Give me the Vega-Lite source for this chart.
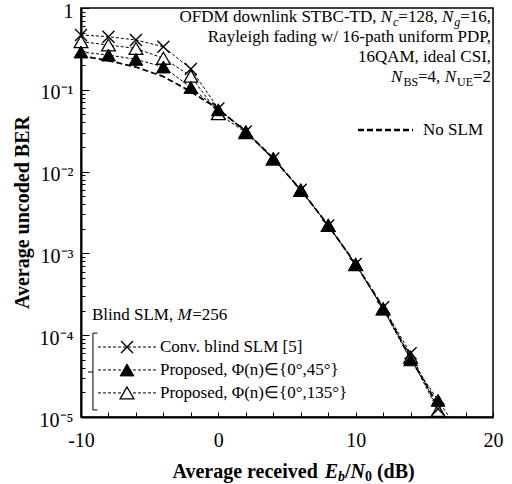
{
  "$schema": "https://vega.github.io/schema/vega-lite/v6.json",
  "width": 412,
  "height": 409,
  "autosize": "none",
  "padding": {"left": 81, "top": 8, "right": 19, "bottom": 67},
  "background": "white",
  "config": {
    "view": {"stroke": "black", "strokeWidth": 1.5},
    "font": "Liberation Serif",
    "text": {"font": "Liberation Serif", "color": "black"}
  },
  "resolve": {"axis": {"y": "independent", "x": "independent"}, "scale": {"y": "shared", "x": "shared"}},
  "data": {
    "values": [
      {"s": "conv", "x": -10, "ber": 0.468}, {"s": "conv", "x": -8, "ber": 0.446}, {"s": "conv", "x": -6, "ber": 0.406}, {"s": "conv", "x": -4, "ber": 0.336}, {"s": "conv", "x": -2, "ber": 0.18}, {"s": "conv", "x": 0, "ber": 0.059}, {"s": "conv", "x": 2, "ber": 0.031}, {"s": "conv", "x": 4, "ber": 0.0145}, {"s": "conv", "x": 6, "ber": 0.006}, {"s": "conv", "x": 8, "ber": 0.0022}, {"s": "conv", "x": 10, "ber": 0.00074}, {"s": "conv", "x": 12, "ber": 0.00022}, {"s": "conv", "x": 14, "ber": 0.00006}, {"s": "conv", "x": 16, "ber": 0.0000125}, {"s": "conv", "x": 17, "ber": 0.000006},
      {"s": "p45", "x": -10, "ber": 0.29}, {"s": "p45", "x": -8, "ber": 0.266}, {"s": "p45", "x": -6, "ber": 0.236}, {"s": "p45", "x": -4, "ber": 0.19}, {"s": "p45", "x": -2, "ber": 0.107}, {"s": "p45", "x": 0, "ber": 0.057}, {"s": "p45", "x": 2, "ber": 0.031}, {"s": "p45", "x": 4, "ber": 0.0145}, {"s": "p45", "x": 6, "ber": 0.006}, {"s": "p45", "x": 8, "ber": 0.0022}, {"s": "p45", "x": 10, "ber": 0.00074}, {"s": "p45", "x": 12, "ber": 0.00021}, {"s": "p45", "x": 14, "ber": 0.00005}, {"s": "p45", "x": 16, "ber": 0.000016}, {"s": "p45", "x": 17, "ber": 0.000009},
      {"s": "p135", "x": -10, "ber": 0.387}, {"s": "p135", "x": -8, "ber": 0.353}, {"s": "p135", "x": -6, "ber": 0.32}, {"s": "p135", "x": -4, "ber": 0.243}, {"s": "p135", "x": -2, "ber": 0.147}, {"s": "p135", "x": 0, "ber": 0.051}, {"s": "p135", "x": 2, "ber": 0.03}, {"s": "p135", "x": 4, "ber": 0.0142}, {"s": "p135", "x": 6, "ber": 0.0059}, {"s": "p135", "x": 8, "ber": 0.0022}, {"s": "p135", "x": 10, "ber": 0.00073}, {"s": "p135", "x": 12, "ber": 0.00021}, {"s": "p135", "x": 14, "ber": 0.000054}, {"s": "p135", "x": 16, "ber": 0.000012}, {"s": "p135", "x": 17, "ber": 0.0000055},
      {"s": "noslm", "x": -10, "ber": 0.26}, {"s": "noslm", "x": -8, "ber": 0.227}, {"s": "noslm", "x": -6, "ber": 0.19}, {"s": "noslm", "x": -4, "ber": 0.145}, {"s": "noslm", "x": -2, "ber": 0.095}, {"s": "noslm", "x": 0, "ber": 0.058}, {"s": "noslm", "x": 2, "ber": 0.031}, {"s": "noslm", "x": 4, "ber": 0.0145}, {"s": "noslm", "x": 6, "ber": 0.006}, {"s": "noslm", "x": 8, "ber": 0.0022}, {"s": "noslm", "x": 10, "ber": 0.00074}, {"s": "noslm", "x": 12, "ber": 0.00022}, {"s": "noslm", "x": 14, "ber": 0.000052}, {"s": "noslm", "x": 16, "ber": 0.000014}, {"s": "noslm", "x": 17, "ber": 0.000007}
    ]
  },
  "layer": [
    {
      "transform": [{"filter": "datum.s != 'noslm'"}],
      "mark": {"type": "line", "strokeDash": [3, 2], "strokeWidth": 1, "color": "black", "clip": true},
      "encoding": {
        "x": {
          "field": "x", "type": "quantitative",
          "scale": {"domain": [-10, 20], "nice": false, "zero": false},
          "axis": {
            "orient": "bottom",
            "values": [-10, -8, -6, -4, -2, 0, 2, 4, 6, 8, 10, 12, 14, 16, 18, 20],
            "labelExpr": "datum.value % 10 == 0 ? '' + datum.value : ''",
            "grid": false, "tickSize": -5, "tickColor": "black", "tickWidth": 1,
            "domainColor": "black", "domainWidth": 2,
            "labelFontSize": 20, "labelColor": "black", "labelFont": "Liberation Serif", "labelPadding": 18, "labelFlush": false,
            "title": null
          }
        },
        "y": {
          "field": "ber", "type": "quantitative",
          "scale": {"type": "log", "domain": [0.00001, 1], "nice": false},
          "axis": {
            "orient": "left",
            "values": [1, 0.1, 0.01, 0.001, 0.0001, 0.00001],
            "labelExpr": "datum.value == 1 ? '1' : datum.value == 0.1 ? '10⁻¹' : datum.value == 0.01 ? '10⁻²' : datum.value == 0.001 ? '10⁻³' : datum.value == 0.0001 ? '10⁻⁴' : '10⁻⁵'",
            "grid": false, "tickSize": -8, "tickColor": "black", "tickWidth": 1,
            "domainColor": "black", "domainWidth": 2,
            "labelFontSize": 20, "labelColor": "black", "labelFont": "Liberation Serif", "labelPadding": 16, "labelOffset": 3, "labelFlush": false, "labelOverlap": false,
            "title": "Average uncoded BER", "titleFontSize": 20, "titleFont": "Liberation Serif", "titleFontWeight": "bold", "titleColor": "black", "titleX": -59, "titleY": 204, "titleAngle": -90, "titleBaseline": "middle", "titleAlign": "center"
          }
        },
        "detail": {"field": "s"}
      }
    },
    {
      "transform": [{"filter": "datum.s == 'noslm'"}],
      "mark": {"type": "line", "strokeDash": [6, 3], "strokeWidth": 1.8, "color": "black", "clip": true},
      "encoding": {
        "x": {"field": "x", "type": "quantitative", "axis": null},
        "y": {
          "field": "ber", "type": "quantitative", "scale": {"type": "log"},
          "axis": {
            "orient": "left",
            "values": [0.9, 0.8, 0.7, 0.6, 0.5, 0.4, 0.3, 0.2, 0.09, 0.08, 0.07, 0.06, 0.05, 0.04, 0.03, 0.02, 0.009, 0.008, 0.007, 0.006, 0.005, 0.004, 0.003, 0.002, 0.0009, 0.0008, 0.0007, 0.0006, 0.0005, 0.0004, 0.0003, 0.0002, 0.00009, 0.00008, 0.00007, 0.00006, 0.00005, 0.00004, 0.00003, 0.00002],
            "labels": false, "domain": false, "grid": false, "title": null,
            "tickSize": -4, "tickColor": "black", "tickWidth": 1
          }
        }
      }
    },
    {
      "transform": [{"filter": "datum.s == 'p135' && datum.x <= 16"}],
      "mark": {"type": "point", "shape": "triangle-up", "filled": true, "fill": "white", "stroke": "black", "strokeWidth": 1.3, "size": 190, "opacity": 1},
      "encoding": {"x": {"field": "x", "type": "quantitative", "axis": null}, "y": {"field": "ber", "type": "quantitative", "scale": {"type": "log"}, "axis": null}}
    },
    {
      "transform": [{"filter": "datum.s == 'conv' && datum.x <= 16"}],
      "mark": {"type": "point", "shape": "M-1,-1L1,1M-1,1L1,-1", "filled": false, "stroke": "black", "strokeWidth": 1.4, "size": 144, "opacity": 1},
      "encoding": {"x": {"field": "x", "type": "quantitative", "axis": null}, "y": {"field": "ber", "type": "quantitative", "scale": {"type": "log"}, "axis": null}}
    },
    {
      "transform": [{"filter": "datum.s == 'p45' && datum.x <= 16"}],
      "mark": {"type": "point", "shape": "triangle-up", "filled": true, "fill": "black", "stroke": "black", "strokeWidth": 1, "size": 190, "opacity": 1},
      "encoding": {"x": {"field": "x", "type": "quantitative", "axis": null}, "y": {"field": "ber", "type": "quantitative", "scale": {"type": "log"}, "axis": null}}
    },
    {
      "data": {"values": [{"k": 1}]},
      "mark": {"type": "text", "align": "right", "baseline": "middle", "fontSize": 17, "lineHeight": 20, "text": ["Rayleigh fading w/ 16-path uniform PDP,", "16QAM, ideal CSI,"]},
      "encoding": {"x": {"datum": 19.86, "type": "quantitative", "axis": null}, "y": {"datum": 0.442, "type": "quantitative", "scale": {"type": "log"}, "axis": null}}
    },
    {
      "data": {"values": [{"k": 1}]},
      "mark": {"type": "text", "align": "right", "baseline": "middle", "fontSize": 17, "text": "=16,"},
      "encoding": {"x": {"datum": 19.86, "type": "quantitative", "axis": null}, "y": {"datum": 0.776, "type": "quantitative", "scale": {"type": "log"}, "axis": null}}
    },
    {
      "data": {"values": [{"k": 1}]},
      "mark": {"type": "text", "align": "right", "baseline": "middle", "fontSize": 12, "fontStyle": "italic", "dx": -30.8, "dy": 5, "text": "g"},
      "encoding": {"x": {"datum": 19.86, "type": "quantitative", "axis": null}, "y": {"datum": 0.776, "type": "quantitative", "scale": {"type": "log"}, "axis": null}}
    },
    {
      "data": {"values": [{"k": 1}]},
      "mark": {"type": "text", "align": "right", "baseline": "middle", "fontSize": 17, "fontStyle": "italic", "dx": -37.8, "text": "N"},
      "encoding": {"x": {"datum": 19.86, "type": "quantitative", "axis": null}, "y": {"datum": 0.776, "type": "quantitative", "scale": {"type": "log"}, "axis": null}}
    },
    {
      "data": {"values": [{"k": 1}]},
      "mark": {"type": "text", "align": "right", "baseline": "middle", "fontSize": 17, "dx": -53.4, "text": "=128,"},
      "encoding": {"x": {"datum": 19.86, "type": "quantitative", "axis": null}, "y": {"datum": 0.776, "type": "quantitative", "scale": {"type": "log"}, "axis": null}}
    },
    {
      "data": {"values": [{"k": 1}]},
      "mark": {"type": "text", "align": "right", "baseline": "middle", "fontSize": 12, "fontStyle": "italic", "dx": -92.7, "dy": 5, "text": "c"},
      "encoding": {"x": {"datum": 19.86, "type": "quantitative", "axis": null}, "y": {"datum": 0.776, "type": "quantitative", "scale": {"type": "log"}, "axis": null}}
    },
    {
      "data": {"values": [{"k": 1}]},
      "mark": {"type": "text", "align": "right", "baseline": "middle", "fontSize": 17, "fontStyle": "italic", "dx": -99.0, "text": "N"},
      "encoding": {"x": {"datum": 19.86, "type": "quantitative", "axis": null}, "y": {"datum": 0.776, "type": "quantitative", "scale": {"type": "log"}, "axis": null}}
    },
    {
      "data": {"values": [{"k": 1}]},
      "mark": {"type": "text", "align": "right", "baseline": "middle", "fontSize": 17, "dx": -114.6, "text": "OFDM downlink STBC-TD,"},
      "encoding": {"x": {"datum": 19.86, "type": "quantitative", "axis": null}, "y": {"datum": 0.776, "type": "quantitative", "scale": {"type": "log"}, "axis": null}}
    },
    {
      "data": {"values": [{"k": 1}]},
      "mark": {"type": "text", "align": "right", "baseline": "middle", "fontSize": 17, "text": "=2"},
      "encoding": {"x": {"datum": 19.86, "type": "quantitative", "axis": null}, "y": {"datum": 0.1434, "type": "quantitative", "scale": {"type": "log"}, "axis": null}}
    },
    {
      "data": {"values": [{"k": 1}]},
      "mark": {"type": "text", "align": "right", "baseline": "middle", "fontSize": 12, "dx": -18.1, "dy": 5, "text": "UE"},
      "encoding": {"x": {"datum": 19.86, "type": "quantitative", "axis": null}, "y": {"datum": 0.1434, "type": "quantitative", "scale": {"type": "log"}, "axis": null}}
    },
    {
      "data": {"values": [{"k": 1}]},
      "mark": {"type": "text", "align": "right", "baseline": "middle", "fontSize": 17, "fontStyle": "italic", "dx": -35.1, "text": "N"},
      "encoding": {"x": {"datum": 19.86, "type": "quantitative", "axis": null}, "y": {"datum": 0.1434, "type": "quantitative", "scale": {"type": "log"}, "axis": null}}
    },
    {
      "data": {"values": [{"k": 1}]},
      "mark": {"type": "text", "align": "right", "baseline": "middle", "fontSize": 17, "dx": -50.7, "text": "=4,"},
      "encoding": {"x": {"datum": 19.86, "type": "quantitative", "axis": null}, "y": {"datum": 0.1434, "type": "quantitative", "scale": {"type": "log"}, "axis": null}}
    },
    {
      "data": {"values": [{"k": 1}]},
      "mark": {"type": "text", "align": "right", "baseline": "middle", "fontSize": 12, "dx": -73.0, "dy": 5, "text": "BS"},
      "encoding": {"x": {"datum": 19.86, "type": "quantitative", "axis": null}, "y": {"datum": 0.1434, "type": "quantitative", "scale": {"type": "log"}, "axis": null}}
    },
    {
      "data": {"values": [{"k": 1}]},
      "mark": {"type": "text", "align": "right", "baseline": "middle", "fontSize": 17, "fontStyle": "italic", "dx": -88.7, "text": "N"},
      "encoding": {"x": {"datum": 19.86, "type": "quantitative", "axis": null}, "y": {"datum": 0.1434, "type": "quantitative", "scale": {"type": "log"}, "axis": null}}
    },
    {
      "data": {"values": [{"k": 1}]},
      "mark": {"type": "rule", "strokeDash": [6, 3], "strokeWidth": 2.5, "color": "black"},
      "encoding": {"x": {"datum": 10.17, "type": "quantitative", "axis": null}, "x2": {"datum": 14.18}, "y": {"datum": 0.0323, "type": "quantitative", "scale": {"type": "log"}, "axis": null}}
    },
    {
      "data": {"values": [{"k": 1}]},
      "mark": {"type": "text", "align": "left", "baseline": "middle", "fontSize": 17, "text": "No SLM"},
      "encoding": {"x": {"datum": 14.91, "type": "quantitative", "axis": null}, "y": {"datum": 0.0323, "type": "quantitative", "scale": {"type": "log"}, "axis": null}}
    },
    {
      "data": {"values": [{"k": 1}]},
      "mark": {"type": "text", "align": "left", "baseline": "middle", "fontSize": 17, "text": "Blind SLM,"},
      "encoding": {"x": {"datum": -9.2, "type": "quantitative", "axis": null}, "y": {"datum": 0.000177, "type": "quantitative", "scale": {"type": "log"}, "axis": null}}
    },
    {
      "data": {"values": [{"k": 1}]},
      "mark": {"type": "text", "align": "left", "baseline": "middle", "fontSize": 17, "fontStyle": "italic", "dx": 85.5, "text": "M"},
      "encoding": {"x": {"datum": -9.2, "type": "quantitative", "axis": null}, "y": {"datum": 0.000177, "type": "quantitative", "scale": {"type": "log"}, "axis": null}}
    },
    {
      "data": {"values": [{"k": 1}]},
      "mark": {"type": "text", "align": "left", "baseline": "middle", "fontSize": 17, "dx": 100.2, "text": "=256"},
      "encoding": {"x": {"datum": -9.2, "type": "quantitative", "axis": null}, "y": {"datum": 0.000177, "type": "quantitative", "scale": {"type": "log"}, "axis": null}}
    },
    {
      "data": {"values": [{"k": 1}]},
      "mark": {"type": "text", "align": "left", "baseline": "middle", "fontSize": 17, "lineHeight": 23, "text": ["Conv. blind SLM [5]", "Proposed, Φ(n)∈{0°,45°}", "Proposed, Φ(n)∈{0°,135°}"]},
      "encoding": {"x": {"datum": -4.25, "type": "quantitative", "axis": null}, "y": {"datum": 0.0000717, "type": "quantitative", "scale": {"type": "log"}, "axis": null}}
    },
    {
      "data": {"values": [{"k": 1}]},
      "mark": {"type": "rule", "strokeDash": [3, 2], "strokeWidth": 1, "color": "black"},
      "encoding": {"x": {"datum": -8.76, "type": "quantitative", "axis": null}, "x2": {"datum": -4.46}, "y": {"datum": 0.0000717, "type": "quantitative", "scale": {"type": "log"}, "axis": null}}
    },
    {
      "data": {"values": [{"k": 1}]},
      "mark": {"type": "rule", "strokeDash": [3, 2], "strokeWidth": 1, "color": "black"},
      "encoding": {"x": {"datum": -8.76, "type": "quantitative", "axis": null}, "x2": {"datum": -4.46}, "y": {"datum": 0.0000376, "type": "quantitative", "scale": {"type": "log"}, "axis": null}}
    },
    {
      "data": {"values": [{"k": 1}]},
      "mark": {"type": "rule", "strokeDash": [3, 2], "strokeWidth": 1, "color": "black"},
      "encoding": {"x": {"datum": -8.76, "type": "quantitative", "axis": null}, "x2": {"datum": -4.46}, "y": {"datum": 0.0000197, "type": "quantitative", "scale": {"type": "log"}, "axis": null}}
    },
    {
      "data": {"values": [{"k": 1}]},
      "mark": {"type": "point", "shape": "M-1,-1L1,1M-1,1L1,-1", "filled": false, "stroke": "black", "strokeWidth": 1.4, "size": 144, "opacity": 1},
      "encoding": {"x": {"datum": -6.65, "type": "quantitative", "axis": null}, "y": {"datum": 0.0000717, "type": "quantitative", "scale": {"type": "log"}, "axis": null}}
    },
    {
      "data": {"values": [{"k": 1}]},
      "mark": {"type": "point", "shape": "triangle-up", "filled": true, "fill": "black", "stroke": "black", "strokeWidth": 1, "size": 190, "opacity": 1},
      "encoding": {"x": {"datum": -6.65, "type": "quantitative", "axis": null}, "y": {"datum": 0.0000376, "type": "quantitative", "scale": {"type": "log"}, "axis": null}}
    },
    {
      "data": {"values": [{"k": 1}]},
      "mark": {"type": "point", "shape": "triangle-up", "filled": true, "fill": "white", "stroke": "black", "strokeWidth": 1.3, "size": 190, "opacity": 1},
      "encoding": {"x": {"datum": -6.65, "type": "quantitative", "axis": null}, "y": {"datum": 0.0000197, "type": "quantitative", "scale": {"type": "log"}, "axis": null}}
    },
    {
      "data": {"values": [{"k": 1}]},
      "mark": {"type": "rule", "strokeWidth": 1, "color": "black"},
      "encoding": {"x": {"datum": -9.13, "type": "quantitative", "axis": null}, "y": {"datum": 0.000106, "type": "quantitative", "scale": {"type": "log"}, "axis": null}, "y2": {"datum": 0.0000122}}
    },
    {
      "data": {"values": [{"k": 1}]},
      "mark": {"type": "rule", "strokeWidth": 1, "color": "black"},
      "encoding": {"x": {"datum": -9.13, "type": "quantitative", "axis": null}, "x2": {"datum": -8.8}, "y": {"datum": 0.000106, "type": "quantitative", "scale": {"type": "log"}, "axis": null}}
    },
    {
      "data": {"values": [{"k": 1}]},
      "mark": {"type": "rule", "strokeWidth": 1, "color": "black"},
      "encoding": {"x": {"datum": -9.13, "type": "quantitative", "axis": null}, "x2": {"datum": -8.8}, "y": {"datum": 0.0000122, "type": "quantitative", "scale": {"type": "log"}, "axis": null}}
    },
    {
      "data": {"values": [{"k": 1}]},
      "mark": {"type": "rule", "strokeWidth": 1, "color": "black"},
      "encoding": {"x": {"datum": -9.49, "type": "quantitative", "axis": null}, "x2": {"datum": -9.13}, "y": {"datum": 0.0000355, "type": "quantitative", "scale": {"type": "log"}, "axis": null}}
    },
    {
      "data": {"values": [{"k": 1}]},
      "mark": {"type": "text", "align": "left", "baseline": "middle", "fontSize": 20, "fontWeight": "bold", "text": "Average received"},
      "encoding": {"x": {"datum": -3.34, "type": "quantitative", "axis": null}, "y": {"datum": 0.00000213, "type": "quantitative", "scale": {"type": "log"}, "axis": null}}
    },
    {
      "data": {"values": [{"k": 1}]},
      "mark": {"type": "text", "align": "left", "baseline": "middle", "fontSize": 20, "fontWeight": "bold", "fontStyle": "italic", "dx": 152.2, "text": "E"},
      "encoding": {"x": {"datum": -3.34, "type": "quantitative", "axis": null}, "y": {"datum": 0.00000213, "type": "quantitative", "scale": {"type": "log"}, "axis": null}}
    },
    {
      "data": {"values": [{"k": 1}]},
      "mark": {"type": "text", "align": "left", "baseline": "middle", "fontSize": 14, "fontWeight": "bold", "fontStyle": "italic", "dx": 165.5, "dy": 5, "text": "b"},
      "encoding": {"x": {"datum": -3.34, "type": "quantitative", "axis": null}, "y": {"datum": 0.00000213, "type": "quantitative", "scale": {"type": "log"}, "axis": null}}
    },
    {
      "data": {"values": [{"k": 1}]},
      "mark": {"type": "text", "align": "left", "baseline": "middle", "fontSize": 20, "fontWeight": "bold", "dx": 172.5, "text": "/"},
      "encoding": {"x": {"datum": -3.34, "type": "quantitative", "axis": null}, "y": {"datum": 0.00000213, "type": "quantitative", "scale": {"type": "log"}, "axis": null}}
    },
    {
      "data": {"values": [{"k": 1}]},
      "mark": {"type": "text", "align": "left", "baseline": "middle", "fontSize": 20, "fontWeight": "bold", "fontStyle": "italic", "dx": 178.1, "text": "N"},
      "encoding": {"x": {"datum": -3.34, "type": "quantitative", "axis": null}, "y": {"datum": 0.00000213, "type": "quantitative", "scale": {"type": "log"}, "axis": null}}
    },
    {
      "data": {"values": [{"k": 1}]},
      "mark": {"type": "text", "align": "left", "baseline": "middle", "fontSize": 14, "fontWeight": "bold", "dx": 192.5, "dy": 5, "text": "0"},
      "encoding": {"x": {"datum": -3.34, "type": "quantitative", "axis": null}, "y": {"datum": 0.00000213, "type": "quantitative", "scale": {"type": "log"}, "axis": null}}
    },
    {
      "data": {"values": [{"k": 1}]},
      "mark": {"type": "text", "align": "left", "baseline": "middle", "fontSize": 20, "fontWeight": "bold", "dx": 204.5, "text": "(dB)"},
      "encoding": {"x": {"datum": -3.34, "type": "quantitative", "axis": null}, "y": {"datum": 0.00000213, "type": "quantitative", "scale": {"type": "log"}, "axis": null}}
    }
  ]
}
